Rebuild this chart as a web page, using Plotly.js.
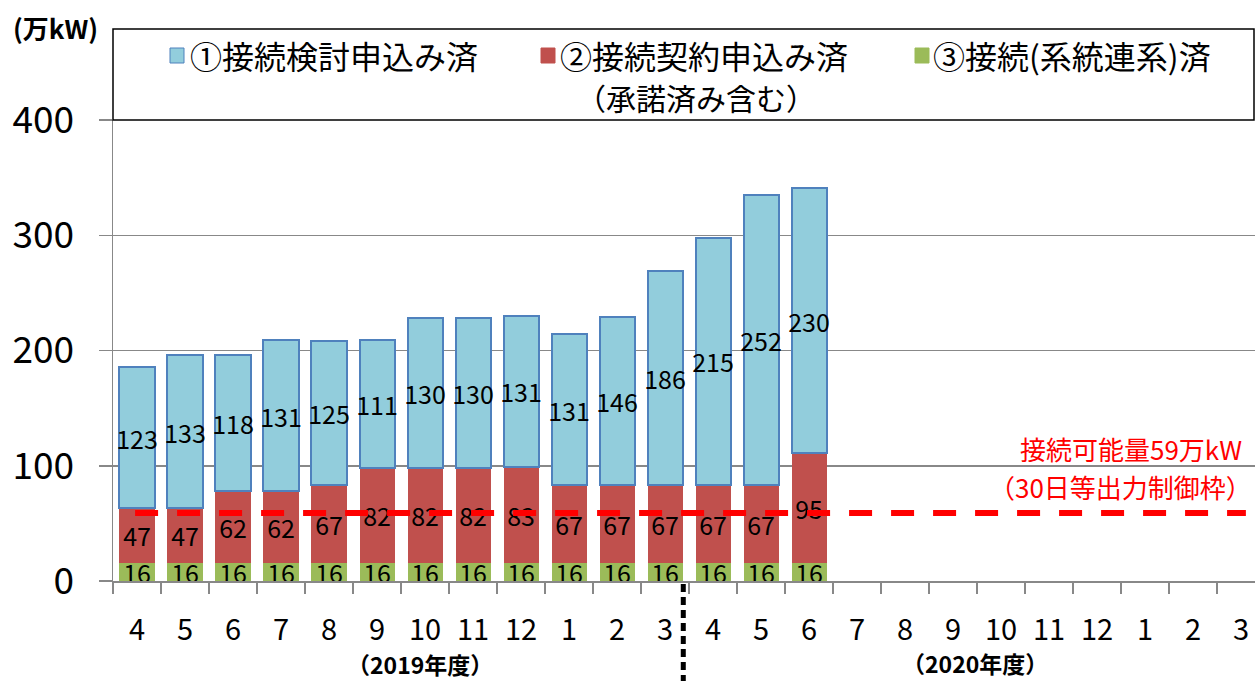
<!DOCTYPE html>
<html>
<head>
<meta charset="utf-8">
<script src="https://cdn.plot.ly/plotly-3.0.1.min.js"></script>
<style>html,body{margin:0;padding:0;background:#fff;}#chart{width:1255px;height:681px;}</style>
</head>
<body>
<div id="chart"></div>
<script>
// ---- data ----
const categories = ['2019-4','2019-5','2019-6','2019-7','2019-8','2019-9','2019-10','2019-11','2019-12','2019-1','2019-2','2019-3',
                    '2020-4','2020-5','2020-6','2020-7','2020-8','2020-9','2020-10','2020-11','2020-12','2020-1','2020-2','2020-3'];
const monthLabels = ['4','5','6','7','8','9','10','11','12','1','2','3','4','5','6','7','8','9','10','11','12','1','2','3'];
const connected  = [16,16,16,16,16,16,16,16,16,16,16,16,16,16,16];          // ③接続(系統連系)済
const contracted = [47,47,62,62,67,82,82,82,83,67,67,67,67,67,95];          // ②接続契約申込み済
const studied    = [123,133,118,131,125,111,130,130,131,131,146,186,215,252,230]; // ①接続検討申込み済
const capacityLimit = 59; // 接続可能量59万kW
const seriesNames = ['①接続検討申込み済','②接続契約申込み済','③接続(系統連系)済'];

// ---- geometry helpers (pixel -> paper) ----
const L = 113, R = 1255, T = 120, B = 581;
const px = v => (v - L) / (R - L);
const py = v => (B - v) / (B - T);

const FONT = '"Noto Sans CJK JP", "Noto Sans", sans-serif';
const barCats = categories.slice(0, studied.length);
const txt = a => a.map(v => String(v));

const traces = [
  {type:'bar', name:seriesNames[2], x:barCats, y:connected, text:txt(connected),
   marker:{color:'#9BBB59', line:{width:0}}},
  {type:'bar', name:seriesNames[1], x:barCats, y:contracted, text:txt(contracted),
   marker:{color:'#C0504D', line:{width:0}}},
  {type:'bar', name:seriesNames[0], x:barCats, y:studied, text:txt(studied),
   marker:{color:'#92CDDC', line:{color:'#4F81BD', width:2}}}
].map(t => Object.assign(t, {
  textposition:'inside', insidetextanchor:'middle', constraintext:'none', textangle:0,
  textfont:{family:FONT, size:25, color:'#000'}, hoverinfo:'x+y+name', showlegend:false, cliponaxis:false
}));

const legendItems = [
  {color:'#92CDDC', border:'#4F81BD', sq:170, tx:188, name:seriesNames[0]},
  {color:'#C0504D', border:'#C0504D', sq:541, tx:558, name:seriesNames[1]},
  {color:'#9BBB59', border:'#9BBB59', sq:915, tx:931, name:seriesNames[2]}
];

const shapes = [
  // legend box
  {type:'rect', xref:'paper', yref:'paper', x0:0, x1:px(1254), y0:py(120), y1:py(29),
   line:{color:'#000', width:1.5}, fillcolor:'rgba(0,0,0,0)', layer:'above'},
  // capacity limit line
  {type:'line', xref:'x', yref:'y', x0:-0.04, x1:23.1, y0:capacityLimit, y1:capacityLimit,
   line:{color:'#FF0000', width:6, dash:'23px,19px'}, layer:'above'},
  // fiscal year separator
  {type:'line', xref:'x', yref:'paper', x0:11.38, x1:11.38, y0:py(584), y1:py(681),
   line:{color:'#000', width:5, dash:'8px,5px'}}
];
legendItems.forEach(it => shapes.push({type:'rect', xref:'paper', yref:'paper',
  x0:px(it.sq), x1:px(it.sq+14), y0:py(63), y1:py(48), fillcolor:it.color, line:{color:it.border, width:1}}));

const annotations = [
  {text:'<b>(万kW)</b>', x:px(55), y:py(27), font:{size:26}},
  {text:'<b>（2019年度）</b>', x:px(420), y:py(664), font:{size:23}},
  {text:'<b>（2020年度）</b>', x:px(975), y:py(663), font:{size:23}},
  {text:'接続可能量59万kW', x:px(1244), y:py(448), xanchor:'right', font:{size:26, color:'#FF0000'}},
  {text:'（30日等出力制御枠）', x:px(1254), y:py(486), xanchor:'right', font:{size:26, color:'#FF0000'}},
  {text:'（承諾済み含む）', x:px(696), y:py(97), font:{size:30}}
].concat(legendItems.map(it => ({text:it.name, x:px(it.tx), y:py(55), xanchor:'left', font:{size:32}})))
 .map(a => Object.assign({xref:'paper', yref:'paper', showarrow:false, xanchor:'center', yanchor:'middle'}, a,
   {font:Object.assign({family:FONT, color:'#000'}, a.font)}));

const layout = {
  width:1255, height:681,
  margin:{l:L, r:1255-R, t:T, b:681-B, pad:0},
  paper_bgcolor:'#fff', plot_bgcolor:'#fff',
  barmode:'stack', bargap:0.27,
  font:{family:FONT, color:'#000'},
  showlegend:false,
  xaxis:{type:'category', categoryorder:'array', categoryarray:categories,
    tickmode:'array', tickvals:categories, ticktext:monthLabels,
    range:[-0.5, 23.29], tickson:'boundaries', ticks:'outside', ticklen:11, tickcolor:'#888', tickwidth:1.5,
    ticklabelstandoff:23,
    showline:true, linecolor:'#888', linewidth:1.5, showgrid:false, zeroline:false,
    tickfont:{family:FONT, size:29, color:'#000'}, fixedrange:true},
  yaxis:{range:[0,400], tickvals:[0,100,200,300,400], ticks:'outside', ticklen:13, tickcolor:'#888', tickwidth:1.5,
    ticklabelstandoff:17,
    showline:true, linecolor:'#888', linewidth:1.5, showgrid:true, gridcolor:'#888', gridwidth:1.5,
    zeroline:false, tickfont:{family:FONT, size:37, color:'#000'}, fixedrange:true},
  shapes:shapes, annotations:annotations
};

Plotly.newPlot('chart', traces, layout, {displayModeBar:false, staticPlot:true});
</script>
</body>
</html>
